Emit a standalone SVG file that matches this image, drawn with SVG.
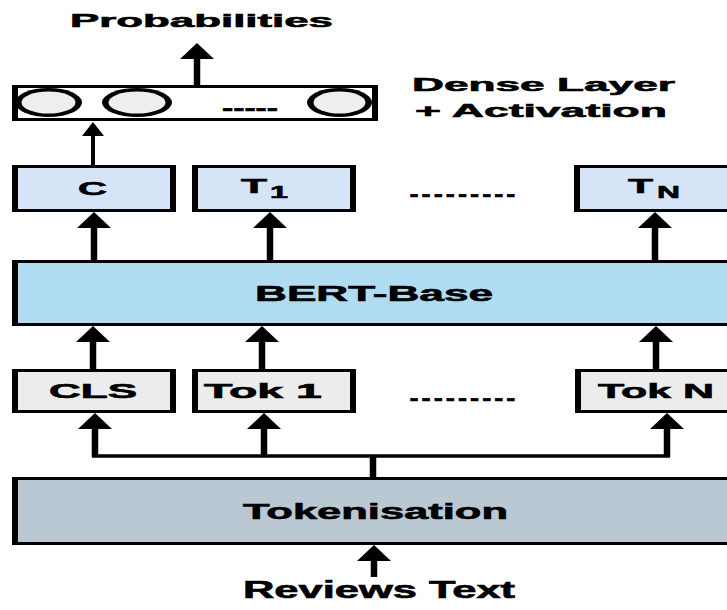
<svg xmlns="http://www.w3.org/2000/svg" width="727" height="610" viewBox="0 0 727 610">
<style>
.t{font-family:"Liberation Sans",Arial,sans-serif;font-weight:bold;fill:#000;stroke:#000;stroke-width:0.6}
.b{fill:#000}
.blue{fill:#d5e5f7}
.bert{fill:#b0dcf1}
.grey{fill:#ececec}
.tok{fill:#b9c8d3}
.shaft{stroke:#000;stroke-width:6.5;fill:none;marker-end:url(#ah)}
.thin{stroke:#000;stroke-width:4;fill:none;marker-end:url(#ahs)}
.hl{stroke:#000;stroke-width:3.3;fill:none}
</style>
<defs>
<marker id="ah" markerUnits="userSpaceOnUse" orient="auto" refX="0" refY="0" markerWidth="20" markerHeight="40" overflow="visible">
<path d="M0,-17 L16,0 L0,17 Z" fill="#000"/>
</marker>
<marker id="ahs" markerUnits="userSpaceOnUse" orient="auto" refX="0" refY="0" markerWidth="20" markerHeight="40" overflow="visible">
<path d="M0,-11 L14,0 L0,11 Z" fill="#000"/>
</marker>
</defs>
<rect width="727" height="610" fill="#fff"/>

<g id="connectors">
<line class="shaft" x1="197" y1="85" x2="197" y2="59"/>
<line class="thin" x1="93" y1="165" x2="93" y2="136"/>
<line class="shaft" x1="94" y1="260" x2="94" y2="228"/>
<line class="shaft" x1="270" y1="260" x2="270" y2="228"/>
<line class="shaft" x1="655" y1="260" x2="655" y2="228"/>
<line class="shaft" x1="93" y1="369" x2="93" y2="342"/>
<line class="shaft" x1="262" y1="369" x2="262" y2="342"/>
<line class="shaft" x1="656" y1="369" x2="656" y2="342"/>
<line class="shaft" x1="95" y1="457" x2="95" y2="429"/>
<line class="shaft" x1="264" y1="457" x2="264" y2="429"/>
<line class="shaft" x1="667" y1="457" x2="667" y2="429"/>
<line class="hl" x1="92" y1="456" x2="670" y2="456"/>
<line stroke="#000" stroke-width="6.5" x1="373" y1="455" x2="373" y2="478"/>
<line class="shaft" x1="374" y1="577" x2="374" y2="561"/>
</g>

<g id="probabilities">
<text class="t" x="70" y="27" font-size="19" textLength="263" lengthAdjust="spacingAndGlyphs">Probabilities</text>
</g>

<g id="dense-layer">
<rect class="b" x="12" y="85" width="366" height="36"/>
<rect fill="#fff" x="18" y="88" width="354" height="30"/>
<ellipse class="b" cx="48.5" cy="102.5" rx="33.5" ry="14.5"/>
<ellipse fill="#eeeeee" cx="48.5" cy="102.5" rx="27" ry="11"/>
<ellipse class="b" cx="137" cy="102.5" rx="35" ry="14.5"/>
<ellipse fill="#eeeeee" cx="137" cy="102.5" rx="28.5" ry="11"/>
<ellipse class="b" cx="339.5" cy="102.5" rx="32.5" ry="14.5"/>
<ellipse fill="#eeeeee" cx="339.5" cy="102.5" rx="26" ry="11"/>
<text class="t" x="222" y="115" font-size="22" textLength="56" lengthAdjust="spacingAndGlyphs">-----</text>
</g>

<g id="dense-label">
<text class="t" x="412" y="91" font-size="19" textLength="263" lengthAdjust="spacingAndGlyphs">Dense Layer</text>
<text class="t" x="415" y="117" font-size="19" textLength="252" lengthAdjust="spacingAndGlyphs">+ Activation</text>
</g>

<g id="out-c">
<rect class="b" x="12" y="165" width="164" height="47"/>
<rect class="blue" x="18" y="168" width="152" height="41"/>
<text class="t" x="78" y="195" font-size="19" textLength="29" lengthAdjust="spacingAndGlyphs">C</text>
</g>
<g id="out-t1">
<rect class="b" x="192" y="165" width="164" height="47"/>
<rect class="blue" x="198" y="168" width="152" height="41"/>
<text class="t" font-size="20"><tspan x="241" y="193" textLength="26" lengthAdjust="spacingAndGlyphs">T</tspan><tspan x="270" y="198" font-size="17" textLength="18" lengthAdjust="spacingAndGlyphs">1</tspan></text>
</g>
<g id="out-dots">
<text class="t" x="408" y="197" font-size="18" textLength="109" lengthAdjust="spacingAndGlyphs">.........</text>
</g>
<g id="out-tn">
<rect class="b" x="574" y="165" width="164" height="47"/>
<rect class="blue" x="580" y="168" width="152" height="41"/>
<text class="t" font-size="20"><tspan x="628" y="193" textLength="25" lengthAdjust="spacingAndGlyphs">T</tspan><tspan x="657" y="198" font-size="17" textLength="23" lengthAdjust="spacingAndGlyphs">N</tspan></text>
</g>

<g id="bert">
<rect class="b" x="12" y="260" width="727" height="66"/>
<rect class="bert" x="18" y="263" width="721" height="60"/>
<text class="t" x="255" y="301" font-size="22" textLength="238" lengthAdjust="spacingAndGlyphs">BERT-Base</text>
</g>

<g id="tok-cls">
<rect class="b" x="12" y="369" width="164" height="44"/>
<rect class="grey" x="18" y="372" width="152" height="38"/>
<text class="t" x="49" y="398" font-size="20" textLength="88" lengthAdjust="spacingAndGlyphs">CLS</text>
</g>
<g id="tok-1">
<rect class="b" x="192" y="369" width="164" height="44"/>
<rect class="grey" x="198" y="372" width="152" height="38"/>
<text class="t" x="204" y="398" font-size="20" textLength="118" lengthAdjust="spacingAndGlyphs">Tok 1</text>
</g>
<g id="tok-dots">
<text class="t" x="408" y="401" font-size="18" textLength="109" lengthAdjust="spacingAndGlyphs">.........</text>
</g>
<g id="tok-n">
<rect class="b" x="575" y="369" width="164" height="44"/>
<rect class="grey" x="581" y="372" width="152" height="38"/>
<text class="t" x="598" y="398" font-size="20" textLength="116" lengthAdjust="spacingAndGlyphs">Tok N</text>
</g>

<g id="tokenisation">
<rect class="b" x="12" y="477" width="727" height="68"/>
<rect class="tok" x="18" y="480" width="721" height="62"/>
<text class="t" x="243" y="519" font-size="22" textLength="265" lengthAdjust="spacingAndGlyphs">Tokenisation</text>
</g>

<g id="reviews-text">
<text class="t" x="243" y="598" font-size="23" textLength="272" lengthAdjust="spacingAndGlyphs">Reviews Text</text>
</g>
</svg>
